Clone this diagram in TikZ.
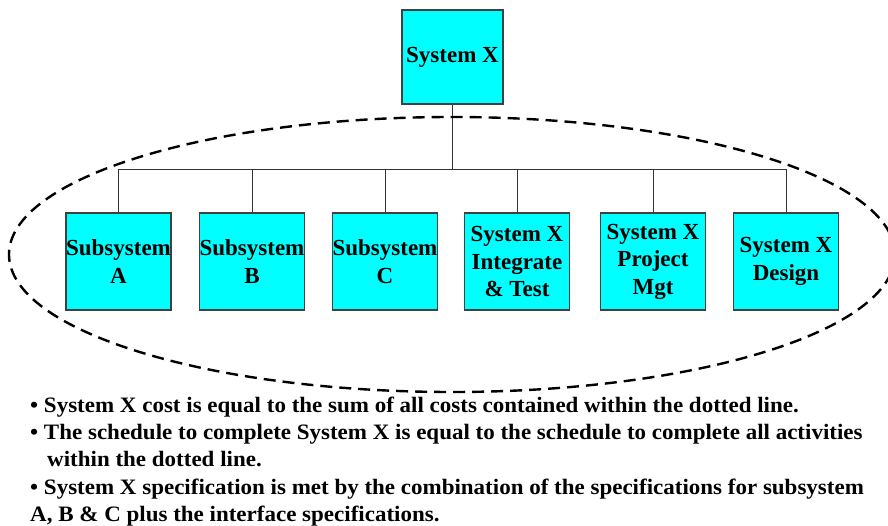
\documentclass[tikz,border=0pt]{standalone}
\usepackage{fontspec}
\setmainfont{Liberation Serif}
\newfontfamily\notefont[FakeStretch=1.045]{Liberation Serif}
\definecolor{boxcyan}{RGB}{0,255,255}
\begin{document}
\begin{tikzpicture}[x=1pt,y=-1pt,
  wbs/.style={draw=black!75, line width=1.2pt, fill=boxcyan, minimum width=105pt,
    minimum height=97pt, inner sep=0pt, align=center,
    font=\bfseries\fontsize{23}{27.5}\selectfont},
  link/.style={draw=black!80, line width=0.9pt},
  boundary/.style={draw=black, line width=2.4pt, dash pattern=on 12pt off 7pt},
  note/.style={anchor=base west, inner sep=0pt,
    font=\notefont\bfseries\fontsize{22}{24}\selectfont}]
\useasboundingbox (0,0) rectangle (888,526);

% top-level element
\node[wbs, minimum width=101pt, minimum height=94pt] (top) at (452.5,57) {System X};

% second-level elements
\node[wbs] (a) at (118.5,261.5) {Subsystem\\A};
\node[wbs] (b) at (252,261.5) {Subsystem\\B};
\node[wbs] (c) at (385,261.5) {Subsystem\\C};
\node[wbs] (it) at (517,261.5) {System X\\Integrate\\\& Test};
\node[wbs] (pm) at (653,261.5) {System X\\Project\\Mgt};
\node[wbs] (ds) at (786,261.5) {System X\\Design};

% tree connectors
\coordinate (bus) at (452.5,169);
\draw[link] (top.south) -- (bus);
\draw[link] (a.north) |- (bus);
\draw[link] (ds.north) |- (bus);
\foreach \n in {b,c,it,pm}{\draw[link] (\n.north) -- (\n.north |- bus);}

% boundary around everything below System X
\draw[boundary] (452,254.5) ellipse (443 and 137.5);

% notes
\node[note] (n1) at (30,412) {• System X cost is equal to the sum of all costs contained within the dotted line.};
\node[note] (n2) at (30,439) {• The schedule to complete System X is equal to the schedule to complete all activities};
\node[note] (n3) at (47,466.5) {within the dotted line.};
\node[note] (n4) at (30,494) {• System X specification is met by the combination of the specifications for subsystem};
\node[note] (n5) at (30,521) {A, B \& C plus the interface specifications.};
\end{tikzpicture}
\end{document}
